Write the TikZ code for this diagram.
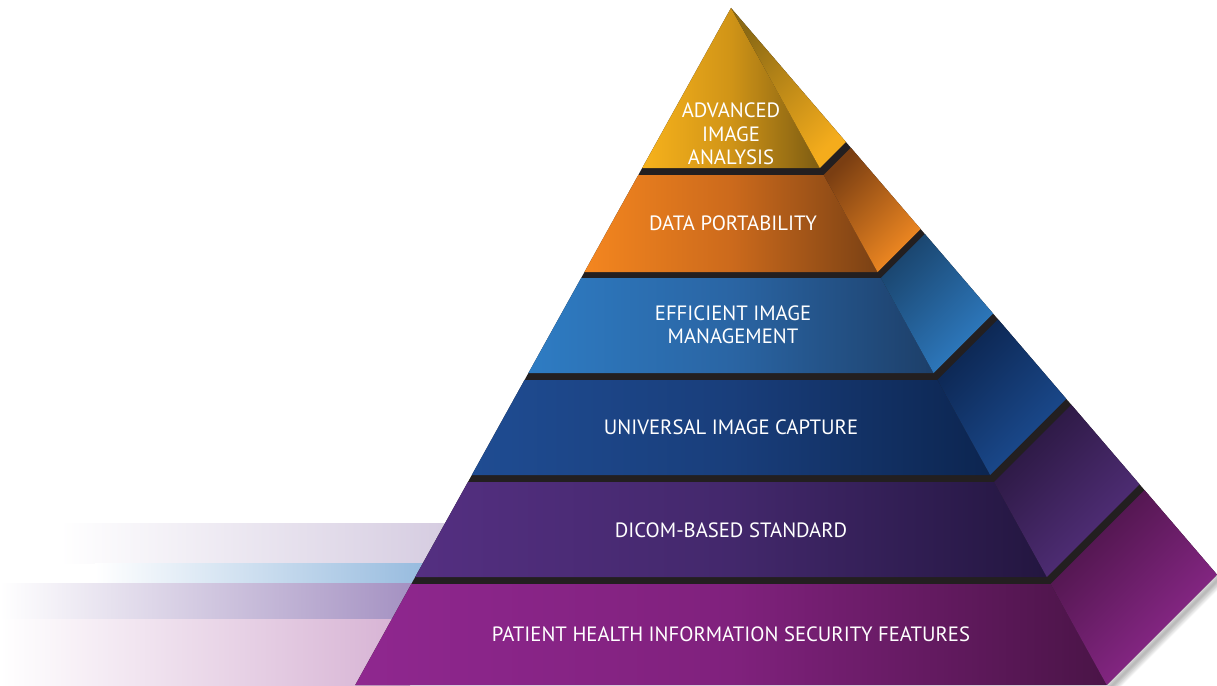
\documentclass[tikz,border=0pt]{standalone}
\usepackage{fontspec}
\setmainfont{PT Sans}
\usetikzlibrary{calc}
\definecolor{bandcol}{HTML}{231F20}
\definecolor{goldL}{HTML}{F7B21C}\definecolor{goldM}{HTML}{D09417}\definecolor{goldR}{HTML}{7D5C12}
\definecolor{goldSD}{HTML}{8C6A14}\definecolor{goldSB}{HTML}{F4AC1C}
\definecolor{orL}{HTML}{F4861F}\definecolor{orM}{HTML}{CC6A1C}\definecolor{orR}{HTML}{7A4114}
\definecolor{orSD}{HTML}{7A3E12}\definecolor{orSB}{HTML}{F28A22}
\definecolor{lbL}{HTML}{2E7CC3}\definecolor{lbM}{HTML}{2A65A4}\definecolor{lbR}{HTML}{1D3F69}
\definecolor{lbSD}{HTML}{1A456E}\definecolor{lbSB}{HTML}{2F7DC4}
\definecolor{dbL}{HTML}{1F4C92}\definecolor{dbM}{HTML}{193E7B}\definecolor{dbR}{HTML}{0C2550}
\definecolor{dbSD}{HTML}{0C2550}\definecolor{dbSB}{HTML}{1C4E94}
\definecolor{puL}{HTML}{542F81}\definecolor{puM}{HTML}{43286C}\definecolor{puR}{HTML}{231640}
\definecolor{puSD}{HTML}{29173F}\definecolor{puSB}{HTML}{56317F}
\definecolor{maL}{HTML}{8F278F}\definecolor{maM}{HTML}{80217D}\definecolor{maR}{HTML}{4A1447}
\definecolor{maSD}{HTML}{4A1447}\definecolor{maSB}{HTML}{922A91}
\definecolor{barA}{HTML}{D3C9DF}\definecolor{barB}{HTML}{92B8DD}
\definecolor{barC}{HTML}{A08CBF}\definecolor{barD}{HTML}{D6B1D3}
% #1 ytop, #2 ybottom, #3 colour prefix
\newcommand{\pyrtier}[3]{%
  \pgfmathsetmacro{\dt}{#1-8}\pgfmathsetmacro{\db}{#2-8}%
  \shade[left color=#3L, right color=#3R, middle color=#3M]
    ({731-0.555*\dt},#1) -- ({731+0.555*\dt},#1) -- ({731+0.555*\db},#2) -- ({731-0.555*\db},#2) -- cycle;
  \shade[top color=#3SD, bottom color=#3SB, shading angle=45]
    ({731+0.555*\dt},#1) -- ({731+0.718*\dt},{#1-0.163*\dt}) -- ({731+0.718*\db},{#2-0.163*\db}) -- ({731+0.555*\db},#2) -- cycle;
}
\tikzset{lbl/.style={text=white, align=center, font=\fontsize{20.7}{23.5}\selectfont, inner sep=0pt}}
\begin{document}
\begin{tikzpicture}[x=1pt,y=-1pt]
\useasboundingbox (0,0) rectangle (1217,685);
% fading streaks on the left
\shade[left color=white, right color=barA] (60,523) rectangle (470,563);
\shade[left color=white, right color=barB] (95,563) rectangle (440,583);
\shade[left color=white, right color=barC] (0,583) rectangle (430,619);
\shade[left color=white, right color=barD] (0,619) rectangle (410,685);
% soft shadow along the lower right edge
\foreach \w in {2,4,6,8,10,12,14}
  \draw[black, opacity=0.045, line width=\w pt] (1220,577.6) -- (1109.7,688);
% dark silhouette (shows as the bands between tiers)
\fill[bandcol] (731,8) -- (355.3,685) -- (1106.7,685) -- (1217,574.6) -- cycle;
% tiers
\pyrtier{8}{168}{gold}
\pyrtier{175}{272}{or}
\pyrtier{278}{373}{lb}
\pyrtier{380}{475}{db}
\pyrtier{482}{577}{pu}
\pyrtier{584}{685}{ma}
% labels
\node[lbl] (t1) at (731,134) {ADVANCED\\IMAGE\\ANALYSIS};
\node[lbl] (t2) at (733,223) {DATA PORTABILITY};
\node[lbl] (t3) at (733,325) {EFFICIENT IMAGE\\MANAGEMENT};
\node[lbl] (t4) at (731,427) {UNIVERSAL IMAGE CAPTURE};
\node[lbl] (t5) at (731,530) {DICOM-BASED STANDARD};
\node[lbl] (t6) at (731,634) {PATIENT HEALTH INFORMATION SECURITY FEATURES};
\end{tikzpicture}
\end{document}
